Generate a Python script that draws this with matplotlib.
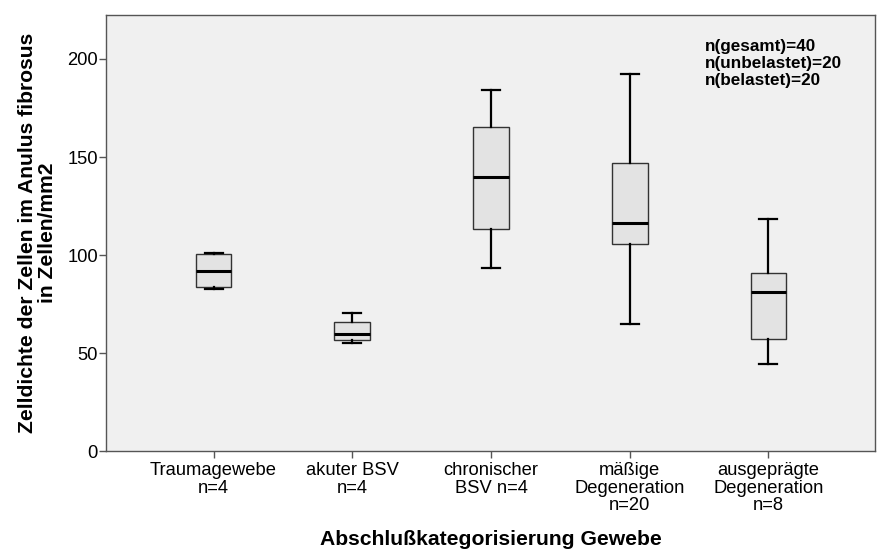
import matplotlib
matplotlib.use("Agg")
import matplotlib.pyplot as plt

plt.rcParams['font.family'] = ['Liberation Sans', 'DejaVu Sans']

categories = ["Traumagewebe\nn=4", "akuter BSV\nn=4", "chronischer\nBSV n=4",
              "mäßige\nDegeneration\nn=20", "ausgeprägte\nDegeneration\nn=8"]
whisker_low = [82.5, 55.2, 93.6, 65.0, 44.5]
q1 = [83.5, 56.6, 113.1, 105.8, 57.3]
median = [92.0, 59.7, 139.7, 116.5, 81.3]
q3 = [100.4, 65.8, 165.4, 147.2, 91.0]
whisker_high = [101.0, 70.6, 184.1, 192.3, 118.2]
yticks = [0, 50, 100, 150, 200]
annotation = "n(gesamt)=40\nn(unbelastet)=20\nn(belastet)=20"

stats = []
for lab, lo, a, m, b, hi in zip(categories, whisker_low, q1, median, q3, whisker_high):
    stats.append(dict(label=lab, whislo=lo, q1=a, med=m, q3=b, whishi=hi, fliers=[]))

fig = plt.figure(figsize=(8.77, 5.57), dpi=100)
ax = fig.add_axes([0.121, 0.190, 0.877, 0.783])
ax.set_facecolor('#F0F0F0')

ax.bxp(stats, positions=range(1, len(stats) + 1), widths=0.257, patch_artist=True,
       showfliers=False,
       boxprops=dict(facecolor='#E3E3E3', edgecolor='#333333', linewidth=1.0),
       medianprops=dict(color='black', linewidth=2.2),
       whiskerprops=dict(color='black', linewidth=1.6),
       capprops=dict(color='black', linewidth=1.6),
       capwidths=0.13)

ax.set_xlim(0.225, 5.77)
ax.set_ylim(0, 222.4)
ax.set_yticks(yticks)
ax.set_yticklabels([str(t) for t in yticks])

for s in ax.spines.values():
    s.set_color('#555555')
    s.set_linewidth(1.0)

ax.tick_params(axis='both', colors='#555555', labelcolor='black', labelsize=13.2,
               length=5, width=1.0, direction='out')
ax.tick_params(axis='y', pad=1)
ax.tick_params(axis='x', pad=3)
for t in ax.get_xticklabels():
    t.set_linespacing(1.02)

ax.set_ylabel("Zelldichte der Zellen im Anulus fibrosus\nin Zellen/mm2", fontsize=15.2,
              fontweight='bold', linespacing=1.1, labelpad=7)
ax.set_xlabel("Abschlußkategorisierung Gewebe", fontsize=15.2, fontweight='bold', labelpad=12)

ax.text(0.779, 0.945, annotation, transform=ax.transAxes, fontsize=12.3,
        fontweight='bold', va='top', ha='left', linespacing=1.15)

fig.savefig("out.png", dpi=100)
